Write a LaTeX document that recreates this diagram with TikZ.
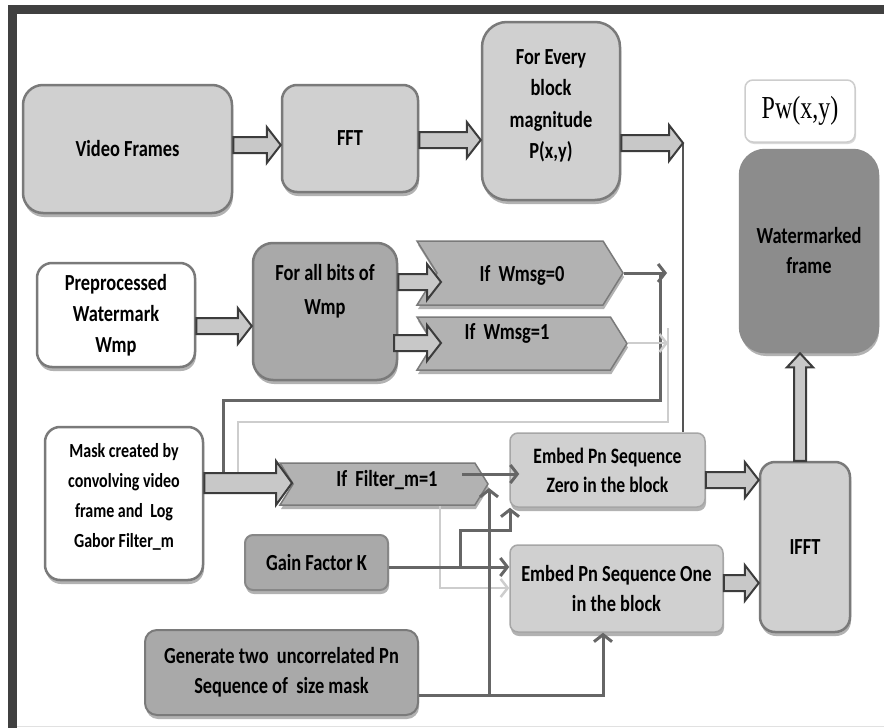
\documentclass[tikz,border=0pt]{standalone}
\usepackage{fontspec}
\setmainfont{Carlito}[FakeStretch=0.8]
\newfontfamily\pwfont{Liberation Serif}[FakeStretch=0.75]
\usetikzlibrary{shapes.symbols,arrows.meta,shadows,calc}
\definecolor{lightfill}{HTML}{D0D0D0}
\definecolor{midfill}{HTML}{A9A9A9}
\definecolor{chevfill}{HTML}{B2B2B2}
\definecolor{darkfill}{HTML}{8C8C8C}
\definecolor{bordergray}{HTML}{7A7A7A}
\definecolor{framegray}{HTML}{404040}
\definecolor{darkline}{HTML}{666666}
\definecolor{lightline}{HTML}{CDCDCD}
\definecolor{fatfill}{HTML}{C8C8C8}
\definecolor{fatdraw}{HTML}{3C3C3C}
\definecolor{pline}{HTML}{555555}
\tikzset{
  txt/.style={font=\fontsize{23}{30}\selectfont\bfseries, align=center, inner sep=0pt},
  shade box/.style={drop shadow={shadow xshift=1pt, shadow yshift=-4pt, fill=black, opacity=0.3}},
  box/.style={txt, draw=bordergray, line width=2.5pt, rounded corners=#1, shade box},
  box/.default=12pt,
  chev/.style={txt, signal, signal to=east, signal from=west, signal pointer angle=116,
    fill=chevfill, draw=bordergray, line width=1.5pt, shade box},
  fat/.style={fill=fatfill, draw=fatdraw, line width=2pt, line join=miter},
  darkarr/.style={draw=darkline, line width=3pt, -{Straight Barb[length=7pt,width=18pt]}},
  darkln/.style={draw=darkline, line width=3pt},
  lightarr/.style={draw=lightline, line width=2.5pt, -{Straight Barb[length=7pt,width=18pt]}},
  lightln/.style={draw=lightline, line width=2.5pt},
  pln/.style={draw=pline, line width=2pt},
}
% fat arrow: from, to, half body, half head, head length
\newcommand{\fatarrow}[5]{%
  \draw[fat] let \p1=(#1), \p2=(#2), \n1={veclen(\x2-\x1,\y2-\y1)}, \n2={atan2(\y2-\y1,\x2-\x1)} in
    [shift={(\p1)}, rotate=\n2] (0,#3) -- ({\n1-#5},#3) -- ({\n1-#5},#4) -- (\n1,0)
    -- ({\n1-#5},-#4) -- ({\n1-#5},-#3) -- (0,-#3) -- cycle;}
\begin{document}
\begin{tikzpicture}[x=1pt,y=-1pt]
\useasboundingbox (0,0) rectangle (884,728);
\fill[white] (0,0) rectangle (884,728);
% frame
\fill[framegray] (8,5) rectangle (884,14);
\fill[framegray] (8,5) rectangle (17,728);
\draw[lightline!60, line width=1.5pt] (17,726.5) -- (884,726.5);

% nodes
\node[box=20pt, fill=lightfill, minimum width=209pt, minimum height=128pt] (vf) at (127.5,149) {Video Frames};
\node[box=15pt, fill=lightfill, minimum width=136pt, minimum height=107pt] (fft) at (350,138.5) {FFT};
\node[box=25pt, fill=lightfill, minimum width=138pt, minimum height=178pt] (every) at (551,111) {};
\node[txt, font=\fontsize{23}{31.5}\selectfont\bfseries] (everyt) at (551,106) {For Every\\block\\magnitude\\P(x,y)};
\node[draw=lightline, fill=white, line width=1.5pt, rounded corners=8pt, minimum width=110pt, minimum height=62pt, inner sep=0pt, drop shadow={shadow xshift=1pt, shadow yshift=-2pt, fill=black, opacity=0.15}] (pw) at (800,111) {\pwfont\fontsize{32}{34}\selectfont Pw(x,y)};
\node[box=25pt, fill=darkfill, draw=darkfill, minimum width=138pt, minimum height=202pt] (wmk) at (809,251) {Watermarked\\frame};

\node[box=15pt, fill=white, minimum width=158pt, minimum height=104pt, font=\fontsize{23}{31}\selectfont\bfseries] (pre) at (116,315) {Preprocessed\\Watermark\\Wmp};
\node[box=20pt, fill=midfill, minimum width=144pt, minimum height=137pt] (bits) at (325,311.5) {};
\node[txt, font=\fontsize{23}{34}\selectfont\bfseries] (bitst) at (325,291) {For all bits of\\Wmp};

\node[chev, minimum width=206pt, minimum height=64pt] (wm0) at (520,273) {};
\node[txt] (wm0t) at (522,275) {If\ \ Wmsg=0};
\node[chev, minimum width=210pt, minimum height=53pt] (wm1) at (522,343.5) {};
\node[txt] (wm1t) at (507,333) {If\ \ Wmsg=1};

\node[box=15pt, fill=white, minimum width=158pt, minimum height=153pt] (mask) at (124,503.5) {};
\node[txt, font=\fontsize{20}{30}\selectfont\bfseries] (maskt) at (124,497) {Mask created by\\convolving video\\frame and\ \ Log\\Gabor Filter\_m};
\node[chev, minimum width=208pt, minimum height=42pt] (filt) at (384,484) {};
\node[txt] (filtt) at (387,480) {If\ \ Filter\_m=1};

\node[box=8pt, fill=midfill, draw=bordergray!90, line width=2pt, minimum width=143pt, minimum height=55pt] (gain) at (316.5,562.5) {Gain Factor K};
\node[box=12pt, fill=midfill, line width=2pt, minimum width=273pt, minimum height=85pt] (gen) at (281.5,672.5) {Generate two\ \ uncorrelated Pn\\Sequence of\ \ size mask};

\node[box=8pt, fill=lightfill, draw=lightfill!80!black, line width=1.5pt, minimum width=195pt, minimum height=74pt, font=\fontsize{22}{29}\selectfont\bfseries] (ez) at (607.5,470) {Embed Pn Sequence\\Zero in the block};
\node[box=8pt, fill=lightfill, draw=lightfill!80!black, line width=1.5pt, minimum width=213pt, minimum height=87pt] (eo) at (616.5,588.5) {Embed Pn Sequence One\\in the block};
\node[box=15pt, fill=lightfill, minimum width=90pt, minimum height=170pt] (ifft) at (805,547) {IFFT};

% named points
\coordinate (ptip) at (683,143);
\coordinate (n0) at (441,282);
\coordinate (n1) at (441,343);
\coordinate (fn) at (292,483);
\coordinate (m0) at (667,273);
\coordinate (j0) at (660,400);
\coordinate (mA) at (223,476);
\coordinate (m1) at (668,343);
\coordinate (j1) at (668,422);
\coordinate (mB) at (238,476);
\coordinate (fz) at (462,474);
\coordinate (gb) at (460,567);
\coordinate (gk) at (510,530);
\coordinate (gv) at (489,695);
\coordinate (gt) at (489,488);

% thin connectors
\draw[pln] (ptip) -- (ptip |- ez.north);
\draw[darkln, line join=miter] (mA) |- (j0) -- (j0 |- m0);
\draw[darkarr] (wm0.east |- m0) -- (m0);
\draw[lightln, line join=miter] (mB) |- (j1) -- ($(j1 |- m1)+(0,-15)$);
\draw[lightarr] (wm1.east |- m1) -- (m1);
\draw[darkarr] (fz) -- ($(ez.west |- fz)+(10,0)$);
\draw[lightarr] (filt.south -| 440,0) |- (eo.west |- 0,588);
\draw[darkarr] (gain.east |- gb) -- (eo.west |- gb);
\draw[darkarr] (gb) |- (gk) -- (gk |- ez.south);
\draw[darkarr] (gen.east |- gv) -| (eo.south -| 603,0);
\draw[darkarr] (gv) -- (gt);

% fat arrows
\fatarrow{vf.east |- 0,145}{fft.west |- 0,145}{8}{18}{14}
\fatarrow{fft.east |- 0,140}{every.west |- 0,140}{8}{18}{14}
\fatarrow{every.east |- ptip}{ptip}{8}{18}{14}
\fatarrow{pre.east |- 0,326}{bits.west |- 0,326}{8}{18}{14}
\fatarrow{bits.east |- n0}{n0}{8}{18}{14}
\fatarrow{394,343}{n1}{8}{18}{14}
\fatarrow{mask.east |- fn}{fn}{10}{22}{16}
\fatarrow{ez.east |- 0,480}{ifft.west |- 0,480}{8}{18}{14}
\fatarrow{eo.east |- 0,583}{ifft.west |- 0,583}{8}{18}{14}
\fatarrow{ifft.north -| 800,0}{wmk.south -| 800,0}{6}{13}{14}
\end{tikzpicture}
\end{document}
